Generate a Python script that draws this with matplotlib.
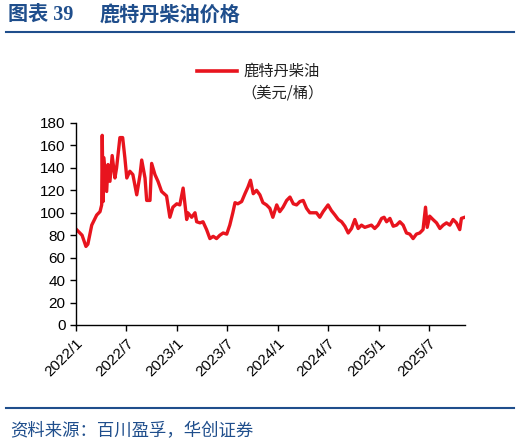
import numpy as np
import pandas as pd
import matplotlib.pyplot as plt
from matplotlib.lines import Line2D

plt.rcParams['font.family'] = ['Liberation Sans', 'Noto Sans CJK SC', 'DejaVu Sans']

# price series (USD/bbl)
dates = ['2022-01-03', '2022-01-23', '2022-02-06', '2022-02-13', '2022-02-27', '2022-03-17',
         '2022-03-29', '2022-04-04', '2022-04-06', '2022-04-09', '2022-04-12', '2022-04-22',
         '2022-04-27', '2022-05-04', '2022-05-12', '2022-05-22', '2022-05-28', '2022-06-09',
         '2022-06-19', '2022-06-27', '2022-07-04', '2022-07-15', '2022-07-26', '2022-08-09',
         '2022-08-21', '2022-08-27', '2022-09-08', '2022-09-14', '2022-09-26', '2022-10-02',
         '2022-10-14', '2022-10-25', '2022-11-07', '2022-11-25', '2022-12-07', '2022-12-18',
         '2023-01-01', '2023-01-12', '2023-01-24', '2023-02-06', '2023-02-10', '2023-02-24',
         '2023-03-08', '2023-03-14', '2023-03-26', '2023-04-06', '2023-04-19', '2023-05-01',
         '2023-05-13', '2023-05-25', '2023-06-06', '2023-06-18', '2023-07-01', '2023-07-12',
         '2023-07-23', '2023-07-31', '2023-08-10', '2023-08-24', '2023-09-05', '2023-09-16',
         '2023-09-25', '2023-10-05', '2023-10-17', '2023-10-29', '2023-11-09', '2023-11-22',
         '2023-12-04', '2023-12-15', '2023-12-29', '2024-01-09', '2024-01-21', '2024-02-03',
         '2024-02-15', '2024-02-27', '2024-03-10', '2024-03-22', '2024-04-03', '2024-04-15',
         '2024-04-27', '2024-05-09', '2024-05-21', '2024-06-02', '2024-06-14', '2024-07-02',
         '2024-07-14', '2024-07-27', '2024-08-08', '2024-08-20', '2024-09-01', '2024-09-13',
         '2024-09-25', '2024-10-07', '2024-10-19', '2024-10-31', '2024-11-12', '2024-11-24',
         '2024-12-06', '2024-12-18', '2024-12-30', '2025-01-12', '2025-01-21', '2025-01-30',
         '2025-02-11', '2025-02-23', '2025-03-07', '2025-03-19', '2025-03-31', '2025-04-12',
         '2025-04-24', '2025-05-06', '2025-05-18', '2025-05-30', '2025-06-11', '2025-06-20',
         '2025-06-26', '2025-07-05', '2025-07-17', '2025-07-30', '2025-08-11', '2025-08-23',
         '2025-09-04', '2025-09-16', '2025-09-28', '2025-10-10', '2025-10-22', '2025-10-28',
         '2025-11-09']
prices = [85, 80, 70, 72, 89, 98,
          101, 107, 169, 110, 149, 119,
          143, 128, 151, 131, 140, 167,
          167, 149, 131, 137, 134, 116,
          134, 147, 131, 111, 111, 144,
          134, 128, 119, 115, 96, 105,
          108, 107, 122, 94, 100, 96,
          100, 92, 91, 92, 85, 77,
          79, 77, 80, 82, 81, 89,
          100, 109, 108, 110, 117, 123,
          129, 117, 120, 116, 109, 107,
          104, 96, 107, 101, 105, 111,
          114, 108, 107, 110, 111, 104,
          100, 100, 100, 96, 101, 107,
          102, 98, 94, 92, 88, 82,
          86, 94, 86, 89, 87, 88,
          89, 86, 89, 95, 96, 92,
          95, 88, 89, 92, 89, 82,
          81, 77, 81, 82, 85, 105,
          87, 97, 94, 91, 86, 89,
          91, 89, 94, 91, 85, 95,
          96]
tick_dates = ['2022-01-01', '2022-07-01', '2023-01-01', '2023-07-01',
              '2024-01-01', '2024-07-01', '2025-01-01', '2025-07-01']
tick_labels = ['2022/1', '2022/7', '2023/1', '2023/7', '2024/1', '2024/7', '2025/1', '2025/7']

blue = '#1F4E8C'
red = '#E8141E'

fig = plt.figure(figsize=(5.2, 4.46), dpi=100)
ax = fig.add_axes([76 / 520, 1 - 325 / 446, (465 - 76) / 520, (325 - 123) / 446])

x = pd.to_datetime(dates)
ax.plot(x, prices, color=red, lw=2.4)

ax.set_ylim(0, 180)
ax.set_yticks(np.arange(0, 181, 20))
ax.set_xlim(pd.Timestamp('2022-01-01'), pd.Timestamp('2025-11-10'))
ax.set_xticks(pd.to_datetime(tick_dates))
ax.set_xticklabels(tick_labels, rotation=45, ha='right', rotation_mode='anchor')
ax.tick_params(axis='both', labelsize=11, direction='out', length=4, width=1, colors='black')
ax.tick_params(axis='x', pad=4)
for s in ['top', 'right']:
    ax.spines[s].set_visible(False)
for s in ['left', 'bottom']:
    ax.spines[s].set_linewidth(1)

# legend: handle next to the first line, unit on a second line
fig.add_artist(Line2D([197 / 520, 237 / 520], [1 - 71 / 446] * 2, color=red, lw=2.6))
fig.text(243 / 520, 1 - 71 / 446, '鹿特丹柴油', fontsize=11, va='center', ha='left',
         family=['Noto Sans CJK SC'], color='#222222')
fig.text(241 / 520, 1 - 93 / 446, '（美元/桶）', fontsize=11, va='center', ha='left',
         family=['Noto Sans CJK SC'], color='#222222')

# title, rules, source
fig.text(8 / 520, 1 - 15 / 446, '图表 39', color=blue, fontsize=14.5,
         fontweight='bold', va='center', ha='left',
         family=['Liberation Serif', 'Noto Sans CJK SC'])
fig.text(100 / 520, 1 - 15 / 446, '鹿特丹柴油价格', color=blue, fontsize=14.5,
         fontweight='bold', va='center', ha='left', family=['Noto Sans CJK SC'])
fig.add_artist(Line2D([6 / 520, 514 / 520], [1 - 32 / 446] * 2, color=blue, lw=1.5))
fig.add_artist(Line2D([6 / 520, 514 / 520], [1 - 408 / 446] * 2, color=blue, lw=1.5))
fig.text(10 / 520, 1 - 431 / 446, '资料来源：百川盈孚，华创证券', color=blue, fontsize=12.5,
         style='italic', va='center', ha='left', family=['Noto Sans CJK SC'])

fig.savefig('out.png', dpi=100)
